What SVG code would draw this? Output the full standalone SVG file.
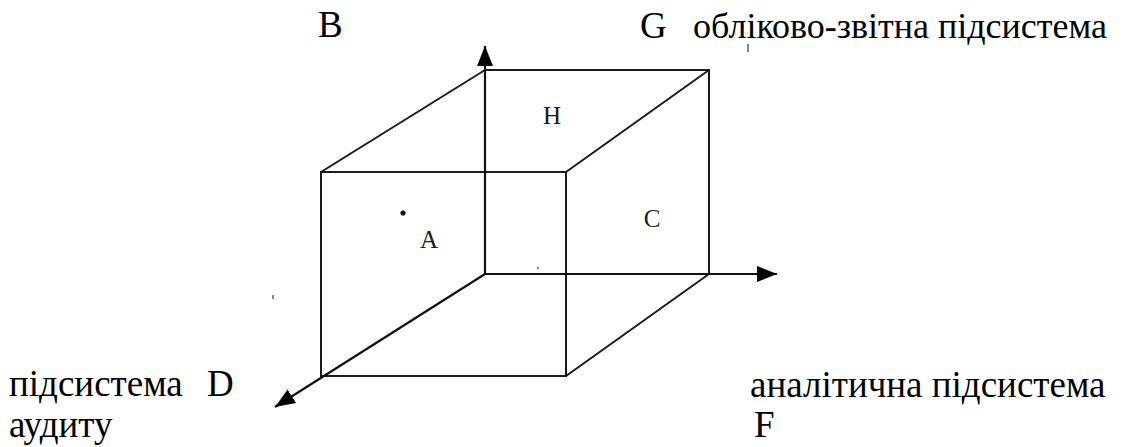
<svg xmlns="http://www.w3.org/2000/svg" width="1141" height="447" viewBox="0 0 1141 447">
  <style>
    .edge { stroke: #1a1a1a; stroke-width: 2; fill: none; stroke-linecap: round; }
    .axis { stroke: #111; stroke-width: 2.2; fill: none; }
    .lbl { font-family: "Liberation Serif", "DejaVu Serif", serif; font-size: 37px; fill: #000; }
    .face { font-family: "Liberation Serif", "DejaVu Serif", serif; font-size: 25px; fill: #1a1a1a; text-anchor: middle; }
  </style>
  <defs>
    <marker id="arrow" markerUnits="userSpaceOnUse" markerWidth="22" markerHeight="18" refX="20" refY="8" orient="auto">
      <path d="M0,0 L20,8 L0,16 z" fill="#000"/>
    </marker>
  </defs>
  <rect width="1141" height="447" fill="#fff"/>

  <g id="connectors">
    <polygon class="edge" points="321,172 566,172 566,376 321,376"/>
    <polyline class="edge" points="485,70 709,70 709,274 485,274"/>
    <line class="edge" x1="321" y1="172" x2="485" y2="70"/>
    <line class="edge" x1="566" y1="172" x2="709" y2="70"/>
    <line class="edge" x1="566" y1="376" x2="709" y2="274"/>
    <line class="axis" x1="485" y1="274" x2="485" y2="46" marker-end="url(#arrow)"/>
    <line class="axis" x1="485" y1="274" x2="777" y2="274" marker-end="url(#arrow)"/>
    <line class="axis" x1="485" y1="274" x2="275" y2="407" marker-end="url(#arrow)"/>
  </g>

  <g id="node-B"><text class="lbl" x="318" y="37">B</text></g>
  <g id="node-G">
    <text class="lbl" x="640" y="38">G</text>
    <text class="lbl" x="693" y="38" style="font-size:36px">обліково-звітна підсистема</text>
  </g>
  <g id="node-D">
    <text class="lbl" x="9" y="396">підсистема</text>
    <text class="lbl" x="207" y="396">D</text>
    <text class="lbl" x="9" y="437">аудиту</text>
  </g>
  <g id="node-F">
    <text class="lbl" x="750" y="397">аналітична підсистема</text>
    <text class="lbl" x="754" y="437">F</text>
  </g>
  <g id="node-H"><text class="face" x="552" y="124">H</text></g>
  <g id="node-A">
    <circle cx="403" cy="213" r="2.6" fill="#111"/>
    <text class="face" x="429" y="248">A</text>
  </g>
  <g id="node-C"><text class="face" x="652" y="227">C</text></g>

  <g id="specks" fill="#888">
    <rect x="747" y="44" width="2" height="8"/>
    <circle cx="538" cy="268" r="1.2"/>
    <rect x="272" y="295" width="2" height="4"/>
  </g>
</svg>
